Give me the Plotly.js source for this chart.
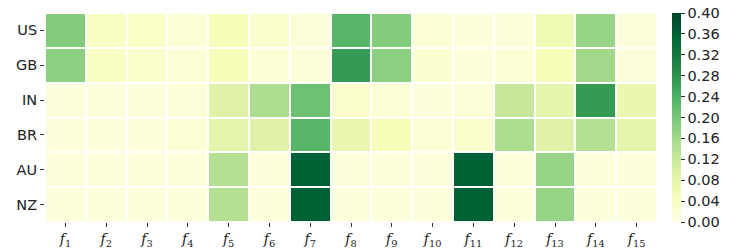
<!DOCTYPE html>
<html><head><meta charset="utf-8">
<script src="https://cdn.plot.ly/plotly-3.0.1.min.js"></script>
<style>body{margin:0;padding:0;background:#fff}#chart{width:747px;height:249px}</style>
</head><body><div id="chart"></div>
<script>
const countries = ["US","GB","IN","BR","AU","NZ"];
const features = ["f1","f2","f3","f4","f5","f6","f7","f8","f9","f10","f11","f12","f13","f14","f15"];
const featureLabels = features.map(f => "<i>f</i><sub>" + f.slice(1) + "</sub>");
const US = [0.19,0.04,0.035,0.02,0.05,0.03,0.015,0.23,0.19,0.02,0.01,0.015,0.06,0.17,0.015];
const GB = [0.18,0.04,0.03,0.02,0.05,0.02,0.015,0.27,0.18,0.025,0.01,0.02,0.05,0.16,0.015];
const IN = [0.01,0.01,0.01,0.015,0.09,0.15,0.21,0.03,0.02,0.01,0.015,0.12,0.08,0.27,0.07];
const BR = [0.01,0.01,0.01,0.02,0.08,0.09,0.23,0.07,0.05,0.02,0.03,0.15,0.09,0.14,0.08];
const AU = [0.01,0.01,0.01,0.01,0.14,0.01,0.36,0.01,0.01,0.01,0.36,0.01,0.17,0.01,0.01];
const NZ = [0.01,0.01,0.01,0.01,0.14,0.01,0.36,0.01,0.01,0.01,0.36,0.01,0.17,0.01,0.01];
const colorTicks = [0,0.04,0.08,0.12,0.16,0.20,0.24,0.28,0.32,0.36,0.40];

const ylgn = [[0,'#ffffe5'],[0.125,'#f7fcb9'],[0.25,'#d9f0a3'],[0.375,'#addd8e'],[0.5,'#78c679'],[0.625,'#41ab5d'],[0.75,'#238443'],[0.875,'#006837'],[1,'#004529']];

const trace = {
  type: 'heatmap',
  z: [US,GB,IN,BR,AU,NZ],
  x: featureLabels,
  y: countries,
  zmin: 0, zmax: 0.4,
  colorscale: ylgn,
  xgap: 2, ygap: 2,
  colorbar: {
    x: 1, xanchor: 'left', xpad: 15, xref: 'paper',
    y: 0, yanchor: 'bottom', len: 1, lenmode: 'fraction',
    thickness: 9, thicknessmode: 'pixels',
    outlinewidth: 0,
    ticks: 'outside', ticklen: 4, tickwidth: 1, tickcolor: '#333',
    tickvals: colorTicks,
    ticktext: colorTicks.map(v => v.toFixed(2)),
    tickfont: {family: 'DejaVu Sans', size: 14.5, color: '#222'},
    ypad: 0
  }
};
const layout = {
  width: 747, height: 249,
  margin: {l: 45, r: 87, t: 13, b: 27},
  paper_bgcolor: '#fff', plot_bgcolor: '#fff',
  xaxis: {
    type: 'category', showgrid: false, zeroline: false, showline: false,
    ticks: 'outside', ticklen: 4, tickwidth: 1, tickcolor: '#333',
    tickfont: {family: 'DejaVu Serif', size: 14, color: '#222'}
  },
  yaxis: {
    type: 'category', autorange: 'reversed', showgrid: false, zeroline: false, showline: false,
    ticks: 'outside', ticklen: 4, tickwidth: 1, tickcolor: '#333',
    tickfont: {family: 'DejaVu Sans', size: 14.5, color: '#222'}
  }
};
Plotly.newPlot('chart', [trace], layout, {staticPlot: true, displayModeBar: false});
</script></body></html>
